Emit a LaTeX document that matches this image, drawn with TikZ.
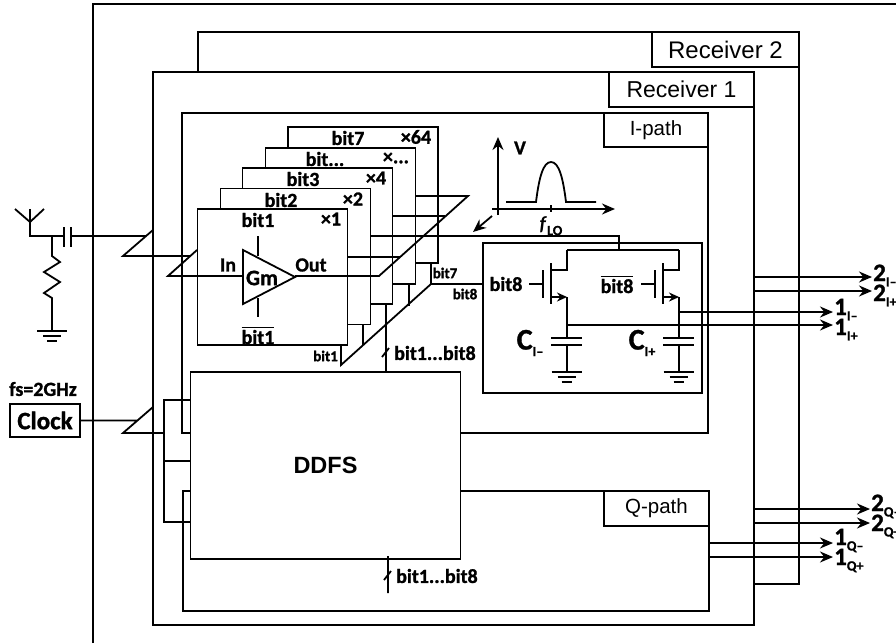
\documentclass[tikz,border=0pt]{standalone}
\usepackage{amsmath}
\usepackage{fontspec}
\setmainfont{Carlito}[BoldFont=Carlito Bold, BoldFeatures={FakeBold=1.2}]
\newfontfamily\arialfont{Liberation Sans}
\usetikzlibrary{arrows.meta,positioning}
\newcommand{\szfont}[1]{\fontsize{#1}{#1}\selectfont}
\newcommand{\lowtxt}[1]{\raisebox{-0.45ex}{\szfont{14}#1}}
\newcommand{\bitdots}{bit...}
\newcommand{\muldots}{×...}

\begin{document}
\begin{tikzpicture}[x=1pt, y=-1pt, >={Stealth[length=13pt,width=11pt]},
   wire/.style={line width=1.8pt},
   blk/.style={draw, line width=1.8pt, fill=white, inner sep=0pt},
   tag/.style={blk, font=\arialfont\szfont{20.5}},
   lbl/.style={inner sep=0pt, font=\bfseries\szfont{20}},
   small/.style={inner sep=0pt, font=\bfseries\szfont{15}},
   gndsym/.pic={\draw[wire] (-15,0)--(15,0) (-9,5)--(9,5) (-5,10)--(5,10);}]
\useasboundingbox (0,0) rectangle (896,643);
% outer frame
\coordinate (fa) at (93,4); \coordinate (fb) at (896,4); \coordinate (fc) at (93,643);
\draw[wire] (fc)--(fa)--(fb);
% receivers
\node[blk, minimum width=601pt, minimum height=552pt] (rx2) at (498.5,308) {};
\node[tag, minimum width=147pt, minimum height=35pt, font=\arialfont\szfont{24}] (rx2t) at (725.5,49.5) {Receiver 2};
\node[blk, minimum width=601pt, minimum height=553pt] (rx1) at (453.5,348.5) {};
\node[tag, minimum width=145pt, minimum height=35pt, font=\arialfont\szfont{23}] (rx1t) at (681.5,89.5) {Receiver 1};
% paths
\node[blk, minimum width=526pt, minimum height=320pt] (ipath) at (445,273) {};
\node[tag, minimum width=104pt, minimum height=34pt] (ipatht) at (656,130) {I-path};
\node[blk, minimum width=526pt, minimum height=120pt] (qpath) at (446,551) {};
\node[tag, minimum width=105pt, minimum height=35pt] (qpatht) at (656.5,508.5) {Q-path};
\node[blk, minimum width=270pt, minimum height=187pt, font=\arialfont\bfseries\szfont{23.5}] (ddfs) at (325.5,465.5) {DDFS};
% slice stack, back to front
\foreach \nm/\cx/\cy/\bt/\mx/\tx/\ty/\ux in {g/363/195/bit7/×64/348/138/416,
   f/340.5/216/\bitdots/\muldots/325/159/396,
   e/317.5/236/bit3/×4/303/179/376,
   d/295.5/256.5/bit2/×2/281/200/353,
   c/272.5/277/bit1/×1/258/220/331} {
  \node[blk, minimum width=150pt, minimum height=136pt] (s\nm) at (\cx,\cy) {};
  \node[lbl] (b\nm) at (\tx,\ty) {\bt};
  \node[lbl] (m\nm) at (\ux,\ty-1) {\mx};
}
% Gm cell
\coordinate (ta) at (243,250); \coordinate (tb) at (243,304); \coordinate (tc) at (295,277);
\draw[wire] (ta)--(tb)--(tc)--cycle;
\node[lbl, font=\bfseries\szfont{22}] (gm) at (262,278) {Gm};
\node[lbl] (inl) at (228,265) {In};
\node[lbl] (outl) at (311,265) {Out};
\node[lbl] (nbit) at (258,335) {$\overline{\mbox{bit1}}$};
\coordinate (ga) at (258,236); \coordinate (gb) at (258,256);
\coordinate (gc) at (258,298); \coordinate (gd) at (258,317);
\draw[wire] (ga)--(gb) (gc)--(gd);
% antenna and input
\coordinate (an) at (30,209); \coordinate (al) at (15,209); \coordinate (ar) at (44,209);
\coordinate (aj) at (30,222); \coordinate (ab) at (30,236); \coordinate (rt) at (52,236);
\coordinate (cl) at (64,236); \coordinate (cr) at (71,236);
\draw[wire] (al)--(aj)--(ar) (an)--(ab)--(cl) (cr)--(146,236);
\draw[wire] (64,227)--(64,247) (71,227)--(71,247);
\draw[wire] (rt)--(52,256)--(60,262)--(44,272)--(60,282)--(44,293)--(52,298)--(52,331);
\pic at (52,331) {gndsym};
\coordinate (ua) at (153,230); \coordinate (ub) at (123,256); \coordinate (uc) at (190,256);
\draw[wire] (ua)--(ub)--(uc);
\coordinate (va) at (197,250); \coordinate (vb) at (168,276);
\draw[wire] (va)--(vb)--(ta|-vb);
% output bus
\coordinate (oa) at (379,276); \coordinate (ob) at (468,196);
\draw[wire] (tc|-oa)--(oa)--(ob)--(416,196);
\draw[wire] (393,216)--(445,216) (348,257)--(400,257);
\coordinate (ia) at (371,236); \coordinate (ib) at (619,236); \coordinate (ic) at (619,250);
\draw[wire] (ia)--(ib)--(ic);
% bit bus
\coordinate (ba) at (341,365); \coordinate (bb) at (431,284); \coordinate (bc) at (483,284);
\draw[wire] (341,345)--(ba)--(bb)--(bc);
\draw[wire] (363,324)--(363,345) (386,304)--(386,372) (409,284)--(409,306) (431,263)--(bb);
\draw[wire] (382,357)--(389,348);
\node[small, anchor=east] (bita) at (338,356) {bit1};
\node[small] (bitg) at (445,273) {bit7};
\node[small] (bith) at (465,294) {bit8};
\node[lbl, anchor=west] (busa) at (394,353) {bit1...bit8};
% spectrum
\coordinate (xa) at (492,209); \coordinate (xb) at (615,209);
\coordinate (ya) at (498,215); \coordinate (yb) at (498,137);
\draw[wire, ->] (xa)--(xb);
\draw[wire, ->] (ya)--(yb);
\draw[wire] (551,205)--(551,212);
\draw[wire] (506,202)--(536,202) .. controls (539,178) and (543,162) .. (551,162)
   .. controls (559,162) and (563,178) .. (566,202)--(596,202);
\coordinate (da) at (492,216); \coordinate (db) at (473,232);
\draw[wire, ->] (da)--(db);
\node[lbl] (vl) at (520,148) {V};
\node[lbl] (flo) at (551,226) {\textit{f}\lowtxt{LO}};
% sampler
\node[blk, fill=none, minimum width=219pt, minimum height=150pt] (smp) at (592.5,318) {};
\coordinate (sl) at (567,250); \coordinate (sr) at (679,250);
\draw[wire] (sl)--(sr);
\foreach \nm/\xs in {a/0,b/112} {
\begin{scope}[xshift=\xs pt]
  \coordinate (q\nm) at (567,270); \coordinate (s\nm) at (567,297); \coordinate (k\nm) at (567,325);
  \draw[wire] (567,250)--(q\nm)--(551,270) (551,263)--(551,304) (543,270)--(543,298) (529,284)--(543,284);
  \draw[wire, -{Stealth[length=10pt,width=9pt]}] (551,297)--(s\nm);
  \draw[wire] (s\nm)--(567,338) (551,338)--(582,338) (551,345)--(582,345) (567,345)--(567,372);
  \pic at (566.5,372) {gndsym};
\end{scope}
}
\node[lbl] (sga) at (506,284) {bit8};
\node[lbl] (sgb) at (617,284) {$\overline{\mbox{bit8}}$};
\node[lbl, font=\bfseries\szfont{30}] (cia) at (530,343) {C\lowtxt{I--}};
\node[lbl, font=\bfseries\szfont{30}] (cib) at (642,343) {C\lowtxt{I+}};
% DDFS clock side
\node[draw, line width=1.8pt, minimum width=70pt, minimum height=33pt, inner sep=0pt, font=\bfseries\szfont{25}] (clk) at (45,420.5) {Clock};
\node[lbl] (fsl) at (43,389) {fs=2GHz};
\coordinate (wa) at (153,407); \coordinate (wb) at (123,433); \coordinate (wc) at (164,433);
\draw[wire] (clk)--(138,420.5) (wa)--(wb)--(wc);
\coordinate (wd) at (164,400); \coordinate (we) at (164,522);
\draw[wire] (ddfs.west|-wd)--(wd)--(we)--(ddfs.west|-we) (164,461)--(190,461);
% lower bus
\coordinate (la) at (388,556); \coordinate (lb) at (388,593);
\draw[wire] (la)--(lb) (384,580)--(391,571);
\node[lbl, anchor=west] (busb) at (396,576) {bit1...bit8};
% outputs
\foreach \nm/\xa/\xb/\wy/\hi/\low/\by in {p/754/872/277/2/I--/281, r/754/872/291/2/I+/301,
   t/679/833/312/1/I--/315, u/567/833/325/1/I+/335,
   v/754/870/509/2/Q--/511, w/754/870/523/2/Q+/531,
   y/709/833/543/1/Q--/545, z/709/833/557/1/Q+/565} {
  \coordinate (os\nm) at (\xa,\wy); \coordinate (oe\nm) at (\xb,\wy);
  \draw[wire, ->] (os\nm)--(oe\nm);
  \node[lbl, anchor=base west, font=\bfseries\szfont{25}] (ot\nm) at (\xb+1,\by) {\hi\lowtxt{\low}};
}
\end{tikzpicture}
\end{document}
